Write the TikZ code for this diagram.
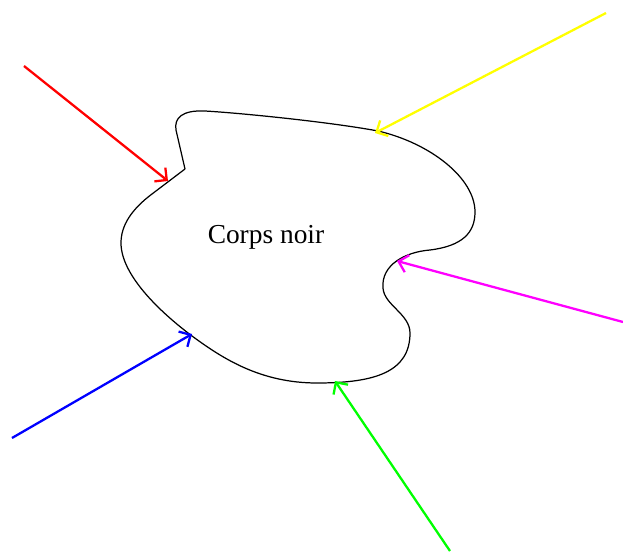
\documentclass[tikz,border=0pt]{standalone}
\usepackage{fontspec}
\setmainfont{Liberation Serif}
\usetikzlibrary{arrows.meta}
\definecolor{pgreen}{RGB}{0,255,0}
\definecolor{pyellow}{RGB}{255,255,0}
\definecolor{pmagenta}{RGB}{255,0,255}
\tikzset{
  ray/.style={line width=1.3pt, -{Straight Barb[length=5pt,width=10pt,line width=1.3pt]}},
  blob/.style={line width=0.7pt, black, line join=miter}
}
\begin{document}
\begin{tikzpicture}[x=0.02cm,y=-0.02cm]
\useasboundingbox (0,0) rectangle (623,554);
\draw[blob] (185,169) -- (152,194)
  .. controls (132,209) and (121,225) .. (121,243)
  .. controls (121,275) and (160,312) .. (192,336)
  .. controls (222,358) and (260,383) .. (317,383)
  .. controls (375,383) and (410,372) .. (410,333)
  .. controls (410,314) and (384,305) .. (383,288)
  .. controls (381,265) and (405,252) .. (430,250)
  .. controls (462,246) and (475,233) .. (475,212)
  .. controls (475,178) and (430,143) .. (378,131)
  .. controls (330,122) and (240,113) .. (205,111)
  .. controls (182,110) and (174,118) .. (176,130)
  -- (185,169);
\node[font=\fontsize{15.6}{18}\selectfont] (lbl) at (266,237) {Corps noir};
\coordinate (r0) at (24,66);   \coordinate (r1) at (168,181);
\coordinate (y0) at (606,13);  \coordinate (y1) at (375,133);
\coordinate (m0) at (623,322); \coordinate (m1) at (397,261);
\coordinate (g0) at (450,551); \coordinate (g1) at (335,381);
\coordinate (b0) at (12,438);  \coordinate (b1) at (192,334);
\draw[ray, red] (r0) -- (r1);
\draw[ray, pyellow] (y0) -- (y1);
\draw[ray, pmagenta] (m0) -- (m1);
\draw[ray, pgreen] (g0) -- (g1);
\draw[ray, blue] (b0) -- (b1);
\end{tikzpicture}
\end{document}
